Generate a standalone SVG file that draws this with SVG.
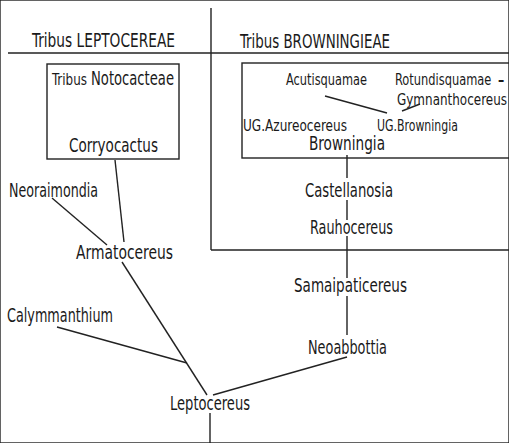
<svg xmlns="http://www.w3.org/2000/svg" width="509" height="443" viewBox="0 0 509 443">
<style>
text{font-family:"DejaVu Sans Condensed","Liberation Sans Narrow","Liberation Sans",sans-serif;fill:#1a1a1a}
.h{font-size:19px}
.n{font-size:19px}
.s{font-size:15.5px}
.t{font-size:15px}
line,rect{stroke:#222;stroke-width:1.4;fill:none}
</style>
<rect width="509" height="443" fill="#fff" stroke="none"/>
<g id="frame">
<line x1="211" y1="8" x2="211" y2="250"/>
<line x1="8" y1="53" x2="509" y2="53"/>
<line x1="211" y1="250" x2="509" y2="250"/>
<text class="h" x="32" y="47" textLength="143" lengthAdjust="spacingAndGlyphs">Tribus  LEPTOCEREAE</text>
<text class="h" x="240" y="48" textLength="150" lengthAdjust="spacingAndGlyphs">Tribus  BROWNINGIEAE</text>
</g>
<g id="notocacteae">
<rect x="47" y="64" width="132" height="95"/>
<text x="52" y="85"><tspan class="t" textLength="35" lengthAdjust="spacingAndGlyphs">Tribus</tspan><tspan class="n" x="91" textLength="83" lengthAdjust="spacingAndGlyphs">Notocacteae</tspan></text>
</g>
<g id="corryocactus"><text class="n" x="69" y="152" textLength="89" lengthAdjust="spacingAndGlyphs">Corryocactus</text></g>
<g id="browningieae-box">
<rect x="242" y="63" width="280" height="95"/>
</g>
<g id="acutisquamae"><text class="s" x="286" y="85" textLength="81" lengthAdjust="spacingAndGlyphs">Acutisquamae</text></g>
<g id="rotundisquamae">
<text class="s" transform="translate(395,85) scale(0.82,1)" x="0" y="0">Rotundisquamae</text>
<text class="s" x="498" y="85" font-weight="bold" transform="translate(498,85) scale(0.9,1) translate(-498,-85)">–</text>
<text class="s" transform="translate(397,105) scale(0.86,1)" x="0" y="0">Gymnanthocereus</text></g>
<g id="ug-azureocereus"><text class="s" x="243" y="131" textLength="104" lengthAdjust="spacingAndGlyphs">UG.Azureocereus</text></g>
<g id="ug-browningia"><text class="s" x="377" y="131" textLength="81" lengthAdjust="spacingAndGlyphs">UG.Browningia</text></g>
<g id="browningia"><text class="n" x="309" y="150" textLength="76" lengthAdjust="spacingAndGlyphs">Browningia</text></g>
<g id="castellanosia"><text class="n" x="305" y="197" textLength="88" lengthAdjust="spacingAndGlyphs">Castellanosia</text></g>
<g id="rauhocereus"><text class="n" x="310" y="234" textLength="83" lengthAdjust="spacingAndGlyphs">Rauhocereus</text></g>
<g id="samaipaticereus"><text class="n" x="294" y="292" textLength="113" lengthAdjust="spacingAndGlyphs">Samaipaticereus</text></g>
<g id="neoabbottia"><text class="n" x="308" y="354" textLength="79" lengthAdjust="spacingAndGlyphs">Neoabbottia</text></g>
<g id="neoraimondia"><text class="n" x="9" y="197" textLength="89" lengthAdjust="spacingAndGlyphs">Neoraimondia</text></g>
<g id="armatocereus"><text class="n" x="76" y="259" textLength="97" lengthAdjust="spacingAndGlyphs">Armatocereus</text></g>
<g id="calymmanthium"><text class="n" x="7" y="322" textLength="106" lengthAdjust="spacingAndGlyphs">Calymmanthium</text></g>
<g id="leptocereus"><text class="n" x="170" y="410" textLength="80" lengthAdjust="spacingAndGlyphs">Leptocereus</text></g>
<g id="connectors">
<line x1="325" y1="96" x2="387" y2="113"/>
<line x1="420" y1="104" x2="402" y2="111"/>
<line x1="347" y1="155" x2="347" y2="178"/>
<line x1="347" y1="200" x2="347" y2="220"/>
<line x1="347" y1="236" x2="347" y2="278"/>
<line x1="347" y1="296" x2="347" y2="335"/>
<line x1="347" y1="357" x2="213" y2="395"/>
<line x1="52" y1="198" x2="107" y2="245"/>
<line x1="115" y1="160" x2="124" y2="242"/>
<line x1="122" y1="262" x2="207" y2="395"/>
<line x1="57" y1="327" x2="187" y2="363"/>
<line x1="210" y1="413" x2="210" y2="443"/>
</g>
</svg>
